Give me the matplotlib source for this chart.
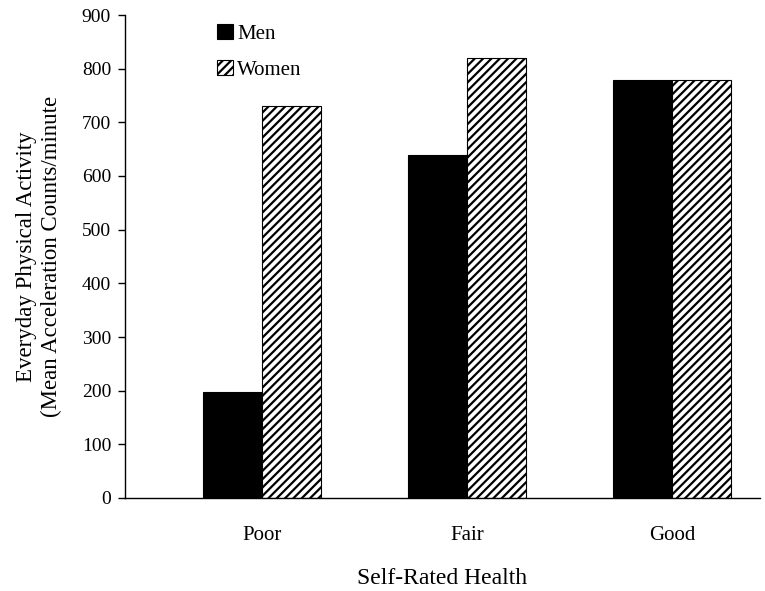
import matplotlib
matplotlib.use('Agg')
import matplotlib.pyplot as plt
import numpy as np

categories = ["Poor", "Fair", "Good"]
men = [198, 640, 778]
women = [730, 820, 778]

plt.rcParams['font.family'] = ['Liberation Serif', 'DejaVu Serif']
plt.rcParams['hatch.linewidth'] = 1.6

fig = plt.figure(figsize=(7.65, 5.91), dpi=100)
ax = fig.add_axes([125 / 765, 1 - 498 / 591, 635 / 765, 483 / 591])

x = np.arange(len(categories))
w = 0.288
ax.bar(x - w / 2, men, w, color='black', edgecolor='black', linewidth=0.8, label='Men')
ax.bar(x + w / 2, women, w, color='white', edgecolor='black', linewidth=0.8,
       hatch='////', label='Women')

ax.set_xlim(-0.668, 2.43)
ax.set_ylim(0, 900)
ax.set_yticks(range(0, 901, 100))
ax.set_xticks(x)
ax.set_xticklabels(categories)
ax.tick_params(axis='x', length=0, pad=20, labelsize=15)
ax.tick_params(axis='y', direction='out', length=5, width=1, pad=5, labelsize=14)

for s in ['top', 'right']:
    ax.spines[s].set_visible(False)
ax.spines['left'].set_linewidth(1)
ax.spines['bottom'].set_linewidth(1)

ax.set_xlabel("Self-Rated Health", fontsize=17, labelpad=17)
ax.set_ylabel("Everyday Physical Activity\n(Mean Acceleration Counts/minute",
              fontsize=16.5, labelpad=14, linespacing=1.25)

ax.legend(loc='upper left', bbox_to_anchor=(0.116, 1.02), frameon=False, fontsize=15,
          handlelength=0.75, handleheight=0.75, handletextpad=0.2, labelspacing=0.75)

plt.savefig("out.png", dpi=100)
